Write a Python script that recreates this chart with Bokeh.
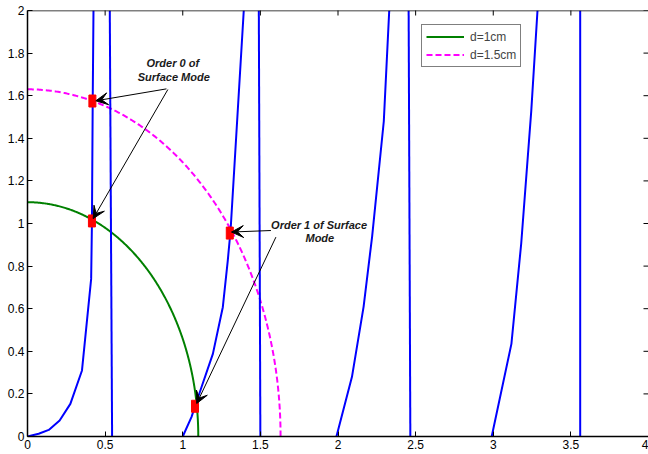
import numpy as np
from bokeh.plotting import figure
from bokeh.models import (Range1d, FixedTicker, Arrow, VeeHead, Legend,
                          LegendItem, ColumnDataSource, Span)
from bokeh.core.properties import value
from bokeh.embed import file_html
from bokeh.resources import INLINE

# ---- data ----
# blue dispersion curves
c1_x = [0.0, 0.072, 0.137, 0.207, 0.276, 0.351, 0.410, 0.415, 0.420, 0.425]
c1_y = [0.0, 0.013, 0.031, 0.075, 0.153, 0.310, 0.740, 1.000, 1.570, 2.000]
c2_x = [0.545, 0.530]
c2_y = [0.0, 2.0]
c3_x = [1.0, 1.056, 1.12, 1.194, 1.258, 1.29, 1.308, 1.393]
c3_y = [0.0, 0.091, 0.23, 0.388, 0.607, 0.826, 0.967, 2.0]
c4_x = [1.50, 1.49]
c4_y = [0.0, 2.0]
c5_x = [1.99, 2.09, 2.165, 2.22, 2.295, 2.33]
c5_y = [0.0, 0.28, 0.61, 0.94, 1.48, 2.0]
c6_x = [2.466, 2.455]
c6_y = [0.0, 2.0]
c7_x = [2.99, 3.117, 3.18, 3.245, 3.285]
c7_y = [0.0, 0.435, 0.905, 1.53, 2.0]
c8_x = [3.56, 3.56]
c8_y = [0.0, 2.0]

# circles (radius) for the two thicknesses
circle_labels = ["d=1cm", "d=1.5cm"]
circle_radius = [1.1, 1.63]

# intersection markers
mark_x = [0.418, 0.415, 1.303, 1.079]
mark_y = [1.575, 1.012, 0.955, 0.142]

# annotation texts
note_text = ["Order 0 of", "Surface Mode", "Order 1 of Surface", "Mode"]
note_x = [0.936, 0.942, 1.878, 1.883]
note_y = [1.753, 1.687, 0.995, 0.933]

# arrows
arr_x0 = [0.895, 0.904, 1.568, 1.600]
arr_y0 = [1.632, 1.629, 0.967, 0.936]
arr_x1 = [0.440, 0.423, 1.314, 1.090]
arr_y1 = [1.576, 1.023, 0.960, 0.155]

x_ticks = [0, 0.5, 1, 1.5, 2, 2.5, 3, 3.5, 4]
x_tick_labels = ["0", "0.5", "1", "1.5", "2", "2.5", "3", "3.5", "4"]
y_ticks = [0, 0.2, 0.4, 0.6, 0.8, 1.0, 1.2, 1.4, 1.6, 1.8, 2.0]
y_tick_labels = ["0", "0.2", "0.4", "0.6", "0.8", "1", "1.2", "1.4", "1.6", "1.8", "2"]

X_MIN, X_MAX = 0, 4
Y_MIN, Y_MAX = 0, 2

FONT = "Liberation Sans"
BLUE = "#0000FF"
GREEN = "#008000"
MAGENTA = "#FF00FF"

p = figure(width=648, height=454, x_range=Range1d(X_MIN, X_MAX), y_range=Range1d(Y_MIN, Y_MAX),
           output_backend="svg", toolbar_location=None,
           min_border_left=27, min_border_right=0, min_border_top=10, min_border_bottom=18)
p.xgrid.visible = False
p.ygrid.visible = False
p.outline_line_color = None
p.background_fill_color = "white"
p.border_fill_color = "white"


def style_axis(ax, ticks, labels):
    ax.ticker = FixedTicker(ticks=ticks)
    ax.major_label_overrides = {t: l for t, l in zip(ticks, labels)}
    ax.major_tick_in = 5
    ax.major_tick_out = 0
    ax.minor_tick_line_color = None
    ax.major_tick_line_color = "black"
    ax.major_tick_line_width = 1
    ax.axis_line_color = "black"
    ax.axis_line_width = 1.5
    ax.major_label_text_font = FONT
    ax.major_label_text_color = "black"
    ax.major_label_text_font_size = "12px"
    ax.major_label_standoff = 3


style_axis(p.xaxis[0], x_ticks, x_tick_labels)
style_axis(p.yaxis[0], y_ticks, y_tick_labels)

# top border line and inward ticks on top / right (box on)
p.add_layout(Span(location=Y_MAX, dimension="width", line_color="black", line_width=1.5))
p.scatter(x=x_ticks, y=[Y_MAX] * len(x_ticks), marker="dash", angle=np.pi / 2, size=10,
          line_color="black", line_width=1)
p.scatter(x=[X_MAX] * len(y_ticks), y=y_ticks, marker="dash", size=10,
          line_color="black", line_width=1)

# circles from their radius (quarter circles)
t = np.linspace(0, np.pi / 2, 300)
circ_renderers = []
for r, col, dash in zip(circle_radius, [GREEN, MAGENTA], ["solid", "6 3"]):
    circ_renderers.append(p.line(x=r * np.cos(t), y=r * np.sin(t), line_color=col,
                                 line_width=2, line_dash=dash))

# blue curves
xs = [c1_x, c2_x, c3_x, c4_x, c5_x, c6_x, c7_x, c8_x]
ys = [c1_y, c2_y, c3_y, c4_y, c5_y, c6_y, c7_y, c8_y]
p.multi_line(xs=xs, ys=ys, line_color=BLUE, line_width=2)

# markers
p.rect(x=mark_x, y=mark_y, width=7, height=12, width_units="screen", height_units="screen",
       fill_color="#FF0000", line_color="#FF0000")

# arrows
asrc = ColumnDataSource(dict(x0=arr_x0, y0=arr_y0, x1=arr_x1, y1=arr_y1))
p.add_layout(Arrow(x_start="x0", y_start="y0", x_end="x1", y_end="y1", source=asrc,
                   line_color="black", line_width=1,
                   end=VeeHead(size=12, fill_color="black", line_color="black", line_width=1)))

# texts
p.text(x=note_x, y=note_y, text=note_text, text_font=value(FONT), text_font_size="11px",
       text_font_style="bold italic", text_align="center", text_baseline="middle",
       text_color="#1a1a1a")

legend = Legend(items=[LegendItem(label=circle_labels[0], renderers=[circ_renderers[0]]),
                       LegendItem(label=circle_labels[1], renderers=[circ_renderers[1]])],
                location=(394, 369), padding=4, spacing=3, margin=0,
                label_height=15, glyph_height=15, glyph_width=38, label_standoff=6,
                label_text_font=FONT, label_text_font_size="12px",
                border_line_color="black", border_line_width=1,
                background_fill_color="white", background_fill_alpha=1)
p.add_layout(legend, "center")

open("out.html", "w").write(file_html(p, INLINE))
